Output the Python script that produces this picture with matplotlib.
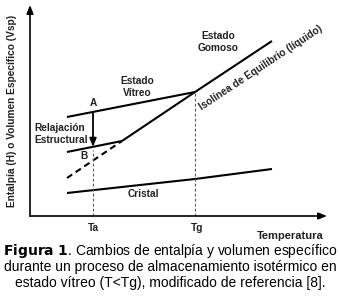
import matplotlib
matplotlib.use("Agg")
import matplotlib.pyplot as plt

plt.rcParams['font.family'] = ['Liberation Sans', 'DejaVu Sans']

# temperaturas (unidades arbitrarias)
Ta = 63
Tg = 165

vidrio_T = [37, Tg]
vidrio_H = [99, 124]
equilibrio_T = [92, Tg, 242]
equilibrio_H = [75, 124, 175]
relajado_T = [37, 92]
relajado_H = [64, 75]
extrapolado_T = [37, 92]
extrapolado_H = [38, 75]
cristal_T = [37, 165, 242]
cristal_H = [23, 37, 47]
flecha_H = [104, 69]

fig = plt.figure(figsize=(3.4, 3.0), dpi=100)
ax = fig.add_axes([30/340, 84/300, 297/340, 211/300])
ax.set_xlim(0, 297)
ax.set_ylim(0, 211)
ax.axis('off')

# ejes con flecha
ax.annotate('', xy=(297, 0), xytext=(0, 0), annotation_clip=False,
            arrowprops=dict(arrowstyle='-|>,head_length=0.5,head_width=0.2', lw=1.2, color='black', shrinkA=0, shrinkB=0))
ax.annotate('', xy=(0, 211), xytext=(0, 0), annotation_clip=False,
            arrowprops=dict(arrowstyle='-|>,head_length=0.5,head_width=0.2', lw=1.2, color='black', shrinkA=0, shrinkB=0))

# lineas
ax.plot(vidrio_T, vidrio_H, color='black', lw=1.5, solid_capstyle='butt')
ax.plot(equilibrio_T, equilibrio_H, color='black', lw=1.5, solid_capstyle='butt')
ax.plot(relajado_T, relajado_H, color='black', lw=1.5, solid_capstyle='butt')
ax.plot(extrapolado_T, extrapolado_H, color='black', lw=1.5, ls=(0, (3, 2)))
ax.plot(cristal_T, cristal_H, color='black', lw=1.5, solid_capstyle='butt')

ax.plot([Ta, Ta], [0, 66], color='#555555', lw=0.8, ls=(0, (2.5, 2)))
ax.plot([Tg, Tg], [0, 124], color='#555555', lw=0.8, ls=(0, (2.5, 2)))

ax.annotate('', xy=(Ta, flecha_H[1]), xytext=(Ta, flecha_H[0]),
            arrowprops=dict(arrowstyle='-|>,head_length=0.5,head_width=0.2', lw=1.3, color='black', shrinkA=0, shrinkB=0))

b = dict(fontsize=7.3, fontweight='bold', color='#222222')
ax.text(Ta, 113, 'A', ha='center', va='center', **b)
ax.text(54, 60, 'B', ha='center', va='center', **b)
ax.text(4, 82, 'Relajación\nEstructural', ha='left', va='center', linespacing=1.15, **b)
ax.text(107, 129, 'Estado\nVítreo', ha='center', va='center', linespacing=1.15, **b)
ax.text(188, 174, 'Estado\nGomoso', ha='center', va='center', linespacing=1.15, **b)
ax.text(231, 148, 'Isolínea de Equilibrio (líquido)', ha='center', va='center', rotation=33.5, **b)
ax.text(113, 22, 'Cristal', ha='center', va='center', **b)
ax.text(Ta, -12, 'Ta', ha='center', va='center', **b)
ax.text(Tg + 2, -12, 'Tg', ha='center', va='center', **b)
ax.text(260, -20, 'Temperatura', ha='center', va='center', fontsize=8, fontweight='bold', color='#222222')
ax.text(-18, 105, 'Entalpía (H) o Volumen Específico (Vsp)', ha='center', va='center', rotation=90, **b)

fig.text(0.5, 1 - 251/300, r'$\bf{Figura\ 1}$. Cambios de entalpía y volumen específico', ha='center', va='center', fontsize=10)
fig.text(0.5, 1 - 267/300, 'durante un proceso de almacenamiento isotérmico en', ha='center', va='center', fontsize=10)
fig.text(0.5, 1 - 283/300, 'estado vítreo (T<Tg), modificado de referencia [8].', ha='center', va='center', fontsize=10)

fig.savefig('out.png', dpi=100)
